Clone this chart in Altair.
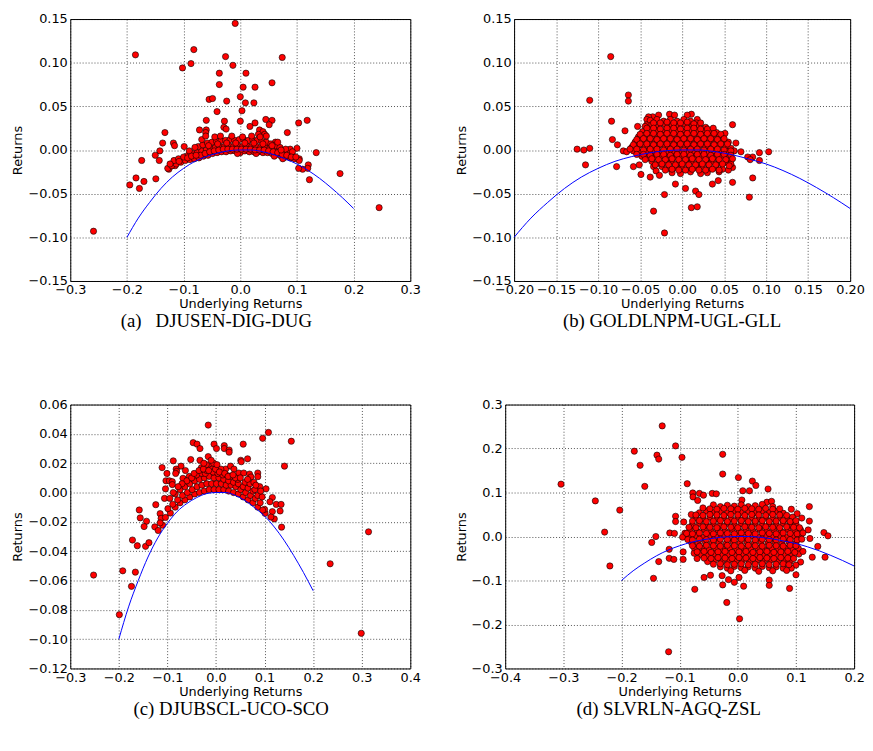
import altair as alt
import pandas as pd

# ---------------- data ----------------
curve_x = [-0.20, -0.18, -0.16, -0.14, -0.12, -0.10, -0.08, -0.06, -0.04, -0.02, 0.00,
           0.02, 0.04, 0.06, 0.08, 0.10, 0.12, 0.14, 0.16, 0.18, 0.20]
curve_y = [-0.100, -0.078, -0.060, -0.044, -0.031, -0.021, -0.013, -0.0075, -0.0035, -0.0008, 0.0,
           0.0, -0.002, -0.0055, -0.0105, -0.016, -0.0235, -0.0325, -0.043, -0.0545, -0.067]

a_points = [
    (-0.009, 0.145), (-0.185, 0.109), (-0.082, 0.115), (-0.102, 0.094), (-0.087, 0.099), (-0.026, 0.107),
    (-0.013, 0.097), (0.074, 0.106), (-0.037, 0.088), (0.010, 0.088), (-0.037, 0.075), (0.005, 0.072),
    (0.026, 0.072), (0.056, 0.077), (0.000, 0.061), (-0.055, 0.058), (-0.049, 0.059), (-0.024, 0.056),
    (0.009, 0.054), (0.024, 0.054), (0.003, 0.045), (-0.041, 0.044), (-0.060, 0.034), (-0.028, 0.033),
    (0.000, 0.033), (0.026, 0.031), (0.045, 0.035), (0.056, 0.034), (0.051, 0.029), (0.103, 0.031),
    (0.118, 0.034), (0.083, 0.020), (-0.133, 0.020), (-0.072, 0.023), (0.034, 0.023), (-0.137, 0.008),
    (-0.118, 0.008), (-0.116, 0.005), (-0.142, -0.001), (-0.150, -0.006), (-0.143, -0.012), (-0.174, -0.012),
    (-0.099, 0.004), (-0.184, -0.032), (-0.195, -0.040), (-0.149, -0.033), (-0.170, -0.036), (-0.178, -0.044),
    (-0.126, -0.022), (-0.120, -0.018), (-0.115, -0.018), (-0.112, -0.014), (-0.103, -0.011), (-0.096, -0.010),
    (-0.259, -0.093), (0.134, -0.003), (0.176, -0.027), (0.245, -0.066), (0.122, -0.034), (0.120, -0.017),
    (0.119, -0.021), (0.110, -0.022), (0.103, -0.021), (0.104, -0.010), (0.100, 0.002), (0.088, 0.001),
    (-0.060, 0.023), (-0.061, 0.020), (-0.029, 0.026), (-0.025, 0.024), (0.040, 0.021), (0.043, 0.018),
    (0.032, 0.018), (0.017, 0.027), (0.062, 0.009),
    # dense band
    (-0.128, -0.021), (-0.121, -0.018), (-0.113, -0.016), (-0.105, -0.014), (-0.097, -0.012), (-0.089, -0.011),
    (-0.081, -0.010), (-0.073, -0.009), (-0.065, -0.007), (-0.057, -0.006), (-0.049, -0.004), (-0.041, -0.003),
    (-0.033, -0.002), (-0.025, -0.002), (-0.017, -0.001), (-0.009, -0.001), (0.000, -0.003), (0.008, -0.001),
    (0.016, -0.002), (0.024, -0.002), (0.032, -0.002), (0.040, -0.003), (0.048, -0.003), (0.056, -0.004),
    (0.064, -0.005), (0.072, -0.007), (0.080, -0.008), (0.088, -0.009), (0.096, -0.010), (0.104, -0.012),
    (-0.117, -0.012), (-0.109, -0.010), (-0.100, -0.008), (-0.092, -0.006), (-0.084, -0.004), (-0.076, -0.003),
    (-0.068, -0.001), (-0.060, 0.000), (-0.052, 0.002), (-0.044, 0.003), (-0.036, 0.004), (-0.028, 0.004),
    (-0.020, 0.005), (-0.012, 0.004), (-0.004, 0.005), (0.004, 0.004), (0.012, 0.005), (0.020, 0.004),
    (0.028, 0.004), (0.036, 0.003), (0.044, 0.003), (0.052, 0.002), (0.060, 0.000), (0.068, -0.001),
    (0.076, -0.003), (0.084, -0.004), (0.092, -0.006),
    (-0.090, -0.001), (-0.074, 0.004), (-0.066, 0.006), (-0.058, 0.008), (-0.050, 0.009), (-0.042, 0.010),
    (-0.034, 0.011), (-0.026, 0.011), (-0.018, 0.012), (-0.010, 0.011), (-0.002, 0.012), (0.006, 0.012),
    (0.014, 0.011), (0.022, 0.012), (0.030, 0.011), (0.038, 0.010), (0.046, 0.009), (0.054, 0.007),
    (0.062, 0.005), (0.070, 0.003), (0.080, 0.001),
    (-0.068, 0.012), (-0.061, 0.016), (-0.045, 0.015), (-0.035, 0.016), (-0.015, 0.016), (0.004, 0.015),
    (0.020, 0.016), (0.035, 0.015), (0.046, 0.016), (0.066, 0.009), (-0.080, 0.003), (-0.070, -0.006),
    (0.060, -0.007), (0.075, -0.010), (0.092, -0.002), (-0.005, -0.004), (0.028, -0.004),
    (-0.124, -0.016), (-0.108, -0.013), (-0.093, -0.009), (-0.086, -0.007), (-0.078, -0.006), (-0.062, -0.004),
    (-0.054, -0.002), (-0.046, -0.001), (-0.038, 0.000), (-0.030, 0.001), (-0.022, 0.001), (-0.014, 0.001),
    (-0.006, 0.001), (0.002, 0.001), (0.010, 0.001), (0.018, 0.001), (0.026, 0.000), (0.034, 0.000),
    (0.042, 0.000), (0.050, -0.001), (0.058, -0.002), (0.066, -0.003), (0.074, -0.005), (0.082, -0.006),
    (0.090, -0.008), (0.098, -0.008), (-0.056, 0.005), (-0.040, 0.007), (-0.024, 0.008), (-0.008, 0.008),
    (0.008, 0.008), (0.024, 0.008), (0.040, 0.007), (0.056, 0.005), (0.072, 0.000),
]

b_points = [
    (-0.085, 0.107), (-0.064, 0.063), (-0.064, 0.056), (-0.110, 0.057), (-0.084, 0.033), (-0.068, 0.022),
    (-0.083, 0.012), (-0.077, 0.006), (-0.125, 0.001), (-0.117, 0.000), (-0.110, 0.002), (-0.115, -0.017),
    (-0.078, -0.019), (-0.058, -0.019), (-0.051, -0.017), (-0.049, -0.028), (-0.038, -0.031), (-0.034, -0.019),
    (-0.031, -0.024), (-0.027, -0.029), (-0.034, -0.070), (-0.021, -0.051), (-0.021, -0.095), (-0.008, -0.039),
    (0.004, -0.044), (0.011, -0.066), (0.018, -0.065), (0.016, -0.047), (0.020, -0.051), (0.036, -0.039),
    (0.043, -0.035), (0.060, -0.037), (0.080, -0.054), (0.084, -0.032), (0.103, -0.002), (0.092, -0.003),
    (0.092, -0.012), (0.084, -0.008), (0.078, -0.008), (0.081, -0.011), (0.070, -0.002), (0.064, 0.008),
    (0.051, 0.019), (0.060, 0.029), (0.060, -0.020), (0.055, -0.023), (0.018, 0.035), (0.011, 0.041),
    (0.006, 0.040), (-0.015, 0.041), (-0.009, 0.040), (-0.028, 0.040), (-0.035, 0.038), (-0.040, 0.038),
    (-0.042, 0.035), (-0.042, 0.029), (-0.053, 0.027), (0.037, 0.022), (-0.070, -0.001), (-0.066, -0.002),
    # dense blob
    (-0.038, 0.034), (-0.030, 0.035), (-0.022, 0.033), (-0.014, 0.035), (-0.006, 0.033), (0.002, 0.035),
    (0.010, 0.033), (0.017, 0.031),
    (-0.044, 0.027), (-0.036, 0.029), (-0.028, 0.027), (-0.020, 0.029), (-0.012, 0.028), (-0.004, 0.027),
    (0.004, 0.029), (0.012, 0.027), (0.020, 0.028), (0.028, 0.026),
    (-0.047, 0.021), (-0.039, 0.023), (-0.031, 0.022), (-0.023, 0.021), (-0.015, 0.023), (-0.007, 0.022),
    (0.001, 0.021), (0.009, 0.023), (0.017, 0.022), (0.025, 0.021), (0.033, 0.022), (0.041, 0.020),
    (-0.052, 0.015), (-0.044, 0.017), (-0.036, 0.016), (-0.028, 0.015), (-0.020, 0.017), (-0.012, 0.016),
    (-0.004, 0.015), (0.004, 0.017), (0.012, 0.016), (0.020, 0.015), (0.028, 0.017), (0.036, 0.016),
    (0.044, 0.015),
    (-0.056, 0.009), (-0.048, 0.011), (-0.040, 0.010), (-0.032, 0.009), (-0.024, 0.011), (-0.016, 0.010),
    (-0.008, 0.009), (0.000, 0.011), (0.008, 0.010), (0.016, 0.009), (0.024, 0.011), (0.032, 0.010),
    (0.040, 0.009), (0.048, 0.011), (0.055, 0.009),
    (-0.060, 0.003), (-0.052, 0.005), (-0.044, 0.004), (-0.036, 0.003), (-0.028, 0.005), (-0.020, 0.004),
    (-0.012, 0.003), (-0.004, 0.005), (0.004, 0.004), (0.012, 0.003), (0.020, 0.005), (0.028, 0.004),
    (0.036, 0.003), (0.044, 0.005), (0.052, 0.004), (0.058, 0.002),
    (-0.058, -0.001), (-0.050, -0.003), (-0.042, -0.002), (-0.034, -0.001), (-0.026, -0.003), (-0.018, -0.002),
    (-0.010, -0.001), (-0.002, -0.003), (0.006, -0.002), (0.014, -0.001), (0.022, -0.003), (0.030, -0.002),
    (0.038, -0.001), (0.046, -0.003), (0.054, -0.002), (0.062, -0.001),
    (-0.048, -0.007), (-0.040, -0.009), (-0.032, -0.008), (-0.024, -0.007), (-0.016, -0.009), (-0.008, -0.008),
    (0.000, -0.007), (0.008, -0.009), (0.016, -0.008), (0.024, -0.007), (0.032, -0.009), (0.040, -0.008),
    (0.048, -0.007), (0.056, -0.009),
    (-0.036, -0.013), (-0.028, -0.015), (-0.020, -0.014), (-0.012, -0.013), (-0.004, -0.015), (0.004, -0.014),
    (0.012, -0.013), (0.020, -0.015), (0.028, -0.014), (0.036, -0.013), (0.044, -0.015), (0.052, -0.014),
    (0.058, -0.016),
    (-0.024, -0.019), (-0.016, -0.021), (-0.008, -0.020), (0.000, -0.019), (0.008, -0.021), (0.016, -0.020),
    (0.024, -0.019), (0.032, -0.021), (0.040, -0.020), (0.048, -0.022),
    (-0.012, -0.026), (-0.002, -0.027), (0.010, -0.025), (0.022, -0.027), (0.030, -0.026), (0.044, -0.025),
    # in-between points of the blob
    (-0.034, 0.031), (-0.026, 0.031), (-0.018, 0.032), (-0.010, 0.031), (-0.002, 0.031), (0.006, 0.032),
    (0.014, 0.030), (0.022, 0.031),
    (-0.042, 0.025), (-0.034, 0.025), (-0.026, 0.024), (-0.018, 0.025), (-0.010, 0.025), (-0.002, 0.024),
    (0.006, 0.025), (0.014, 0.025), (0.022, 0.024), (0.030, 0.024), (0.037, 0.025),
    (-0.050, 0.018), (-0.042, 0.019), (-0.034, 0.019), (-0.026, 0.018), (-0.018, 0.019), (-0.010, 0.019),
    (-0.002, 0.018), (0.006, 0.019), (0.014, 0.019), (0.022, 0.018), (0.030, 0.019), (0.038, 0.019),
    (0.046, 0.018),
    (-0.054, 0.012), (-0.046, 0.013), (-0.038, 0.013), (-0.030, 0.012), (-0.022, 0.013), (-0.014, 0.013),
    (-0.006, 0.012), (0.002, 0.013), (0.010, 0.013), (0.018, 0.012), (0.026, 0.013), (0.034, 0.013),
    (0.042, 0.012), (0.050, 0.013),
    (-0.058, 0.006), (-0.050, 0.007), (-0.042, 0.007), (-0.034, 0.006), (-0.026, 0.007), (-0.018, 0.007),
    (-0.010, 0.006), (-0.002, 0.007), (0.006, 0.007), (0.014, 0.006), (0.022, 0.007), (0.030, 0.007),
    (0.038, 0.006), (0.046, 0.007), (0.054, 0.007),
    (-0.062, 0.001), (-0.054, 0.001), (-0.046, 0.000), (-0.038, 0.001), (-0.030, 0.001), (-0.022, 0.000),
    (-0.014, 0.001), (-0.006, 0.001), (0.002, 0.000), (0.010, 0.001), (0.018, 0.001), (0.026, 0.000),
    (0.034, 0.001), (0.042, 0.001), (0.050, 0.000), (0.058, -0.001),
    (-0.054, -0.005), (-0.046, -0.005), (-0.038, -0.006), (-0.030, -0.005), (-0.022, -0.005), (-0.014, -0.006),
    (-0.006, -0.005), (0.002, -0.005), (0.010, -0.006), (0.018, -0.005), (0.026, -0.005), (0.034, -0.006),
    (0.042, -0.005), (0.050, -0.005), (0.058, -0.006),
    (-0.044, -0.011), (-0.036, -0.010), (-0.028, -0.011), (-0.020, -0.011), (-0.012, -0.010), (-0.004, -0.011),
    (0.004, -0.011), (0.012, -0.010), (0.020, -0.011), (0.028, -0.011), (0.036, -0.010), (0.044, -0.011),
    (0.052, -0.011), (0.060, -0.010),
    (-0.032, -0.017), (-0.024, -0.016), (-0.016, -0.017), (-0.008, -0.017), (0.000, -0.016), (0.008, -0.017),
    (0.016, -0.017), (0.024, -0.016), (0.032, -0.017), (0.040, -0.017), (0.048, -0.016), (0.056, -0.018),
    (-0.020, -0.023), (-0.012, -0.022), (-0.004, -0.023), (0.004, -0.023), (0.012, -0.022), (0.020, -0.023),
    (0.028, -0.023), (0.036, -0.022), (0.044, -0.023),
]

c_points = [
    (-0.016, 0.046), (0.108, 0.041), (0.096, 0.037), (0.155, 0.035), (-0.047, 0.034), (-0.039, 0.033),
    (-0.033, 0.030), (-0.004, 0.033), (0.001, 0.030), (0.017, 0.032), (0.017, 0.030), (0.027, 0.029),
    (0.027, 0.0275), (0.056, 0.033), (0.051, 0.022), (0.052, 0.021), (0.065, 0.023), (-0.052, 0.0225),
    (-0.033, 0.022), (-0.016, 0.0245), (-0.088, 0.0216), (-0.111, 0.017), (0.141, 0.018), (-0.072, 0.018),
    (-0.082, 0.016), (-0.081, 0.0144), (-0.083, 0.013), (-0.063, 0.015), (-0.101, 0.013), (-0.103, 0.008),
    (-0.096, 0.008), (-0.104, 0.0025), (-0.106, -0.004), (-0.055, 0.011), (-0.068, 0.0097), (0.020, 0.016),
    (0.024, 0.0115), (0.030, 0.018), (0.037, 0.016), (0.047, 0.0133), (0.057, 0.0133), (0.069, 0.0126),
    (0.072, 0.0106), (0.086, 0.0133), (0.086, 0.0108), (0.103, 0.0025), (0.116, -0.0034), (0.111, -0.0063),
    (0.124, -0.0081), (0.132, -0.0126), (0.134, -0.0081), (0.116, -0.013), (0.120, -0.018), (0.113, -0.0167),
    (0.135, -0.0236), (0.101, -0.0142), (0.100, -0.0115), (-0.124, -0.0083), (-0.158, -0.0119), (-0.156, -0.0173),
    (-0.143, -0.0196), (-0.148, -0.0232), (-0.126, -0.0234), (-0.115, -0.0144), (-0.113, -0.0176), (-0.110, -0.0223),
    (-0.119, -0.0259), (-0.115, -0.0207), (-0.172, -0.0324), (-0.162, -0.0363), (-0.145, -0.0367), (-0.138, -0.0342),
    (-0.192, -0.0534), (-0.166, -0.0543), (-0.174, -0.064), (-0.252, -0.0563), (-0.199, -0.0833), (0.235, -0.0486),
    (0.314, -0.0268), (0.299, -0.096), (-0.090, 0.0074), (-0.090, 0.0054),
    # dense band
    (-0.104, -0.017), (-0.094, -0.014), (-0.084, -0.010), (-0.074, -0.007), (-0.064, -0.005), (-0.054, -0.003),
    (-0.044, -0.001), (-0.034, 0.000), (-0.024, 0.001), (-0.014, 0.002), (-0.004, 0.002), (0.006, 0.002),
    (0.016, 0.002), (0.026, 0.001), (0.036, 0.000), (0.046, -0.001), (0.056, -0.003), (0.066, -0.005),
    (0.076, -0.007), (0.086, -0.010), (0.096, -0.012),
    (-0.099, -0.011), (-0.089, -0.008), (-0.079, -0.005), (-0.069, -0.002), (-0.059, 0.000), (-0.049, 0.002),
    (-0.039, 0.004), (-0.029, 0.005), (-0.019, 0.006), (-0.009, 0.006), (0.001, 0.006), (0.011, 0.006),
    (0.021, 0.005), (0.031, 0.005), (0.041, 0.004), (0.051, 0.002), (0.061, 0.000), (0.071, -0.002),
    (0.081, -0.004), (0.091, -0.007),
    (-0.084, -0.001), (-0.074, 0.002), (-0.064, 0.004), (-0.054, 0.006), (-0.044, 0.008), (-0.034, 0.009),
    (-0.024, 0.010), (-0.014, 0.011), (-0.004, 0.010), (0.006, 0.010), (0.016, 0.009), (0.026, 0.008),
    (0.036, 0.007), (0.046, 0.006), (0.056, 0.004), (0.066, 0.003), (0.076, 0.001), (0.086, -0.002),
    (-0.060, 0.008), (-0.040, 0.012), (-0.029, 0.013), (-0.022, 0.013), (-0.019, 0.015), (-0.012, 0.018),
    (-0.008, 0.016), (-0.006, 0.014), (0.004, 0.013), (0.014, 0.012), (0.030, 0.011), (0.045, 0.009),
    (0.060, 0.007), (0.080, 0.002),
    (-0.020, 0.019), (-0.005, 0.020), (-0.030, 0.017), (0.010, 0.016), (-0.070, 0.006), (-0.095, -0.004),
    (0.095, -0.003), (0.070, 0.006), (0.040, 0.010),
    (-0.050, 0.010), (-0.045, 0.013), (-0.035, 0.015), (-0.026, 0.016), (-0.015, 0.015), (-0.001, 0.016),
    (0.007, 0.014), (0.018, 0.013), (0.025, 0.011), (0.035, 0.012), (0.050, 0.010), (0.065, 0.009),
    (0.078, 0.007), (0.090, 0.004), (-0.010, 0.022), (-0.025, 0.020), (0.002, 0.019), (-0.078, 0.004),
    (-0.088, 0.000), (0.082, 0.005), (0.092, 0.001),
]

d_points = [
    (-0.130, 0.2515), (-0.107, 0.206), (-0.026, 0.187), (-0.178, 0.194), (-0.139, 0.185), (-0.136, 0.176),
    (-0.096, 0.180), (-0.168, 0.162), (-0.026, 0.142), (0.001, 0.134), (0.025, 0.126), (0.031, 0.116),
    (0.020, 0.104), (0.052, 0.108), (-0.304, 0.119), (-0.160, 0.114), (-0.087, 0.120), (-0.245, 0.081),
    (-0.203, 0.060), (-0.229, 0.010), (-0.220, -0.067), (-0.145, -0.095), (-0.148, -0.0135), (-0.141, 0.000),
    (-0.136, -0.057), (-0.118, -0.0495), (-0.118, -0.029), (-0.117, 0.008), (-0.109, 0.007), (-0.107, 0.046),
    (-0.107, 0.034), (-0.093, 0.033), (-0.110, -0.052), (-0.094, -0.035), (-0.094, -0.052), (-0.074, -0.120),
    (-0.058, -0.093), (-0.047, -0.088), (-0.026, -0.110), (-0.016, -0.098), (-0.006, -0.104), (-0.027, -0.089),
    (0.002, -0.093), (0.010, -0.113), (-0.019, -0.150), (0.003, -0.187), (-0.119, -0.262), (0.054, -0.099),
    (0.054, -0.111), (0.089, -0.118), (0.100, -0.087), (0.123, 0.068), (0.123, 0.035), (0.121, 0.015),
    (0.124, -0.0045), (0.1375, -0.0225), (0.148, 0.009), (0.155, 0.0015), (0.150, -0.047), (0.128, -0.047),
    (0.092, 0.062), (0.102, 0.052), (0.110, 0.042), (-0.0775, 0.099), (-0.066, 0.098), (-0.059, 0.094),
    (-0.044, 0.098), (-0.037, 0.097), (0.0085, 0.104), (0.007, 0.083), (0.050, 0.078), (0.058, 0.080),
    (-0.077, 0.090), (-0.069, 0.082), (-0.091, 0.0075), (-0.095, -0.0015),
    # dense blob
    (-0.042, 0.072), (-0.030, 0.068), (-0.018, 0.071), (-0.006, 0.069), (0.006, 0.072), (0.018, 0.068),
    (0.030, 0.070), (0.042, 0.073),
    (-0.066, 0.054), (-0.054, 0.058), (-0.042, 0.055), (-0.030, 0.057), (-0.018, 0.054), (-0.006, 0.058),
    (0.006, 0.055), (0.018, 0.057), (0.030, 0.054), (0.042, 0.058), (0.054, 0.055), (0.066, 0.057),
    (0.078, 0.053),
    (-0.072, 0.043), (-0.060, 0.040), (-0.048, 0.044), (-0.036, 0.041), (-0.024, 0.043), (-0.012, 0.040),
    (0.000, 0.044), (0.012, 0.041), (0.024, 0.043), (0.036, 0.040), (0.048, 0.044), (0.060, 0.041),
    (0.072, 0.043), (0.084, 0.040), (0.094, 0.044),
    (-0.078, 0.027), (-0.066, 0.030), (-0.054, 0.026), (-0.042, 0.029), (-0.030, 0.027), (-0.018, 0.030),
    (-0.006, 0.026), (0.006, 0.029), (0.018, 0.027), (0.030, 0.030), (0.042, 0.026), (0.054, 0.029),
    (0.066, 0.027), (0.078, 0.030), (0.090, 0.026), (0.100, 0.029),
    (-0.082, 0.015), (-0.070, 0.012), (-0.058, 0.016), (-0.046, 0.013), (-0.034, 0.015), (-0.022, 0.012),
    (-0.010, 0.016), (0.002, 0.013), (0.014, 0.015), (0.026, 0.012), (0.038, 0.016), (0.050, 0.013),
    (0.062, 0.015), (0.074, 0.012), (0.086, 0.016), (0.098, 0.013), (0.108, 0.015),
    (-0.084, -0.001), (-0.072, 0.002), (-0.060, -0.002), (-0.048, 0.001), (-0.036, -0.001), (-0.024, 0.002),
    (-0.012, -0.002), (0.000, 0.001), (0.012, -0.001), (0.024, 0.002), (0.036, -0.002), (0.048, 0.001),
    (0.060, -0.001), (0.072, 0.002), (0.084, -0.002), (0.096, 0.001), (0.108, -0.001),
    (-0.080, -0.013), (-0.068, -0.016), (-0.056, -0.012), (-0.044, -0.015), (-0.032, -0.013), (-0.020, -0.016),
    (-0.008, -0.012), (0.004, -0.015), (0.016, -0.013), (0.028, -0.016), (0.040, -0.012), (0.052, -0.015),
    (0.064, -0.013), (0.076, -0.016), (0.088, -0.012), (0.100, -0.015),
    (-0.074, -0.029), (-0.062, -0.026), (-0.050, -0.030), (-0.038, -0.027), (-0.026, -0.029), (-0.014, -0.026),
    (-0.002, -0.030), (0.010, -0.027), (0.022, -0.029), (0.034, -0.026), (0.046, -0.030), (0.058, -0.027),
    (0.070, -0.029), (0.082, -0.026), (0.094, -0.030), (0.104, -0.027),
    (-0.064, -0.041), (-0.052, -0.044), (-0.040, -0.040), (-0.028, -0.043), (-0.016, -0.041), (-0.004, -0.044),
    (0.008, -0.040), (0.020, -0.043), (0.032, -0.041), (0.044, -0.044), (0.056, -0.040), (0.068, -0.043),
    (0.080, -0.041), (0.092, -0.044),
    (-0.052, -0.057), (-0.040, -0.054), (-0.028, -0.058), (-0.016, -0.055), (-0.004, -0.057), (0.008, -0.054),
    (0.020, -0.058), (0.032, -0.055), (0.044, -0.057), (0.056, -0.054), (0.068, -0.058), (0.080, -0.055),
    (0.090, -0.057),
    (-0.030, -0.069), (-0.018, -0.072), (-0.006, -0.068), (0.006, -0.071), (0.018, -0.069), (0.030, -0.072),
    (0.042, -0.068), (0.054, -0.071), (0.066, -0.069), (0.078, -0.072),
    (0.105, -0.040), (0.108, -0.058), (0.100, -0.065), (0.092, -0.072), (0.112, -0.034), (-0.070, -0.050),
    (-0.075, -0.038), (-0.060, 0.065), (0.060, 0.068), (-0.080, 0.050),
    # in-between points of the blob
    (-0.048, 0.063), (-0.036, 0.062), (-0.024, 0.064), (-0.012, 0.063), (0.000, 0.062), (0.012, 0.064),
    (0.024, 0.063), (0.036, 0.062), (0.048, 0.064), (0.060, 0.062), (0.072, 0.063),
    (-0.072, 0.049), (-0.060, 0.048), (-0.048, 0.050), (-0.036, 0.049), (-0.024, 0.048), (-0.012, 0.050),
    (0.000, 0.049), (0.012, 0.048), (0.024, 0.050), (0.036, 0.049), (0.048, 0.048), (0.060, 0.050),
    (0.072, 0.049), (0.084, 0.048),
    (-0.078, 0.035), (-0.066, 0.036), (-0.054, 0.034), (-0.042, 0.035), (-0.030, 0.036), (-0.018, 0.034),
    (-0.006, 0.035), (0.006, 0.036), (0.018, 0.034), (0.030, 0.035), (0.042, 0.036), (0.054, 0.034),
    (0.066, 0.035), (0.078, 0.036), (0.090, 0.034), (0.100, 0.036),
    (-0.084, 0.021), (-0.072, 0.020), (-0.060, 0.022), (-0.048, 0.021), (-0.036, 0.020), (-0.024, 0.022),
    (-0.012, 0.021), (0.000, 0.020), (0.012, 0.022), (0.024, 0.021), (0.036, 0.020), (0.048, 0.022),
    (0.060, 0.021), (0.072, 0.020), (0.084, 0.022), (0.096, 0.021), (0.106, 0.020),
    (-0.088, 0.007), (-0.078, 0.006), (-0.066, 0.008), (-0.054, 0.007), (-0.042, 0.006), (-0.030, 0.008),
    (-0.018, 0.007), (-0.006, 0.006), (0.006, 0.008), (0.018, 0.007), (0.030, 0.006), (0.042, 0.008),
    (0.054, 0.007), (0.066, 0.006), (0.078, 0.008), (0.090, 0.007), (0.102, 0.006), (0.112, 0.008),
    (-0.086, -0.007), (-0.078, -0.008), (-0.066, -0.006), (-0.054, -0.007), (-0.042, -0.008), (-0.030, -0.006),
    (-0.018, -0.007), (-0.006, -0.008), (0.006, -0.006), (0.018, -0.007), (0.030, -0.008), (0.042, -0.006),
    (0.054, -0.007), (0.066, -0.008), (0.078, -0.006), (0.090, -0.007), (0.102, -0.008), (0.110, -0.006),
    (-0.078, -0.021), (-0.066, -0.022), (-0.054, -0.020), (-0.042, -0.021), (-0.030, -0.022), (-0.018, -0.020),
    (-0.006, -0.021), (0.006, -0.022), (0.018, -0.020), (0.030, -0.021), (0.042, -0.022), (0.054, -0.020),
    (0.066, -0.021), (0.078, -0.022), (0.090, -0.020), (0.100, -0.021),
    (-0.070, -0.035), (-0.058, -0.034), (-0.046, -0.036), (-0.034, -0.035), (-0.022, -0.034), (-0.010, -0.036),
    (0.002, -0.035), (0.014, -0.034), (0.026, -0.036), (0.038, -0.035), (0.050, -0.034), (0.062, -0.036),
    (0.074, -0.035), (0.086, -0.034), (0.098, -0.036),
    (-0.058, -0.049), (-0.046, -0.050), (-0.034, -0.048), (-0.022, -0.049), (-0.010, -0.050), (0.002, -0.048),
    (0.014, -0.049), (0.026, -0.050), (0.038, -0.048), (0.050, -0.049), (0.062, -0.050), (0.074, -0.048),
    (0.086, -0.049), (0.096, -0.050),
    (-0.042, -0.063), (-0.030, -0.062), (-0.018, -0.064), (-0.006, -0.063), (0.006, -0.062), (0.018, -0.064),
    (0.030, -0.063), (0.042, -0.062), (0.054, -0.064), (0.066, -0.063), (0.078, -0.062), (0.088, -0.064),
    (-0.012, -0.078), (0.012, -0.077), (0.036, -0.079), (0.060, -0.078), (0.084, -0.077),
]

captions = ["(a)\u00a0\u00a0 DJUSEN-DIG-DUG", "(b) GOLDLNPM-UGL-GLL", "(c) DJUBSCL-UCO-SCO", "(d) SLVRLN-AGQ-ZSL"]

a_xticks = [-0.3, -0.2, -0.1, 0.0, 0.1, 0.2, 0.3]
a_yticks = [-0.15, -0.10, -0.05, 0.0, 0.05, 0.10, 0.15]
b_xticks = [-0.20, -0.15, -0.10, -0.05, 0.0, 0.05, 0.10, 0.15, 0.20]
b_yticks = [-0.15, -0.10, -0.05, 0.0, 0.05, 0.10, 0.15]
c_xticks = [-0.3, -0.2, -0.1, 0.0, 0.1, 0.2, 0.3, 0.4]
c_yticks = [-0.12, -0.10, -0.08, -0.06, -0.04, -0.02, 0.0, 0.02, 0.04, 0.06]
d_xticks = [-0.4, -0.3, -0.2, -0.1, 0.0, 0.1, 0.2]
d_yticks = [-0.3, -0.2, -0.1, 0.0, 0.1, 0.2, 0.3]

curve_df = pd.DataFrame({"x": curve_x, "y": curve_y})


def panel(points, xticks, yticks, xfmt, yfmt, w, h, caption, dx):
    df = pd.DataFrame(points, columns=["x", "y"])
    xs = alt.Scale(domain=[xticks[0], xticks[-1]], nice=False, zero=False)
    ys = alt.Scale(domain=[yticks[0], yticks[-1]], nice=False, zero=False)
    xax = alt.Axis(values=xticks, tickCount=len(xticks), format=xfmt, title="Underlying Returns")
    yax = alt.Axis(values=yticks, tickCount=len(yticks), format=yfmt, title="Returns")
    pts = alt.Chart(df).mark_circle(
        size=40, color="#ff0000", stroke="black", strokeWidth=0.6, opacity=1
    ).encode(x=alt.X("x:Q", scale=xs, axis=xax), y=alt.Y("y:Q", scale=ys, axis=yax))
    line = alt.Chart(curve_df).mark_line(
        color="#0000ff", strokeWidth=1, interpolate="monotone"
    ).encode(x=alt.X("x:Q", scale=xs), y=alt.Y("y:Q", scale=ys))
    return alt.layer(pts, line).properties(
        width=w, height=h,
        title=alt.TitleParams(
            text=caption, orient="bottom", anchor="middle", frame="bounds",
            font="Liberation Serif", fontSize=19, fontWeight="normal", color="black",
            offset=2, dx=dx,
        ),
    )


pa = panel(a_points, a_xticks, a_yticks, ".1f", ".2f", 344, 265, captions[0], 0)
pb = panel(b_points, b_xticks, b_yticks, ".2f", ".2f", 340, 265, captions[1], 12)
pc = panel(c_points, c_xticks, c_yticks, ".1f", ".2f", 344, 267, captions[2], 15)
pd_ = panel(d_points, d_xticks, d_yticks, ".1f", ".1f", 353, 267, captions[3], 9)

row1 = alt.hconcat(pa, pb, spacing=34)
row2 = alt.hconcat(pc, pd_, spacing=33)

chart = alt.vconcat(row1, row2, spacing=66).properties(
    padding={"left": 3, "top": 0, "right": 0, "bottom": 0}
).configure_view(
    stroke="black", strokeWidth=1
).configure_axis(
    labelFont="DejaVu Sans", labelFontSize=13, labelColor="black",
    titleFont="DejaVu Sans", titleFontSize=13, titleFontWeight="normal", titleColor="black",
    domain=False, ticks=False, labelPadding=3,
    gridColor="black", gridDash=[1, 2], gridWidth=0.8, gridOpacity=0.85,
    labelFlush=False, labelOverlap=False, labelBound=False,
).configure_axisX(titlePadding=1).configure_axisY(titlePadding=3)

chart.save("out.html", embed_options={"renderer": "svg", "actions": False})
